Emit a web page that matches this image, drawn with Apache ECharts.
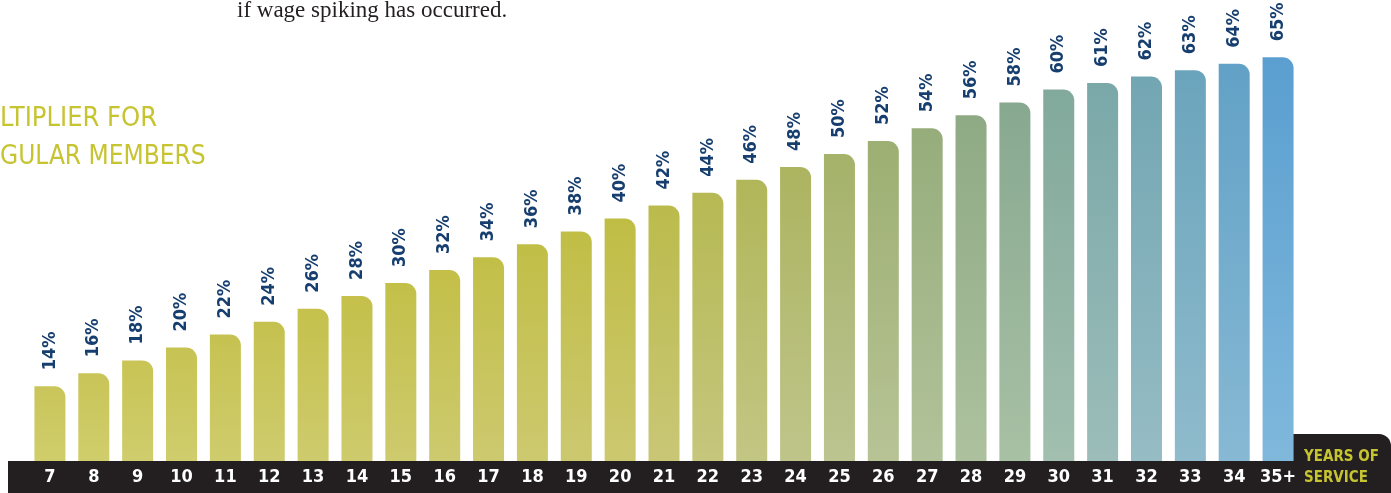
<!DOCTYPE html>
<html>
<head>
<meta charset="utf-8">
<script src="https://cdn.jsdelivr.net/npm/echarts@6/dist/echarts.min.js"></script>
<style>
  html, body { margin: 0; padding: 0; background: #fff; }
  #chart { width: 1391px; height: 493px; }
</style>
</head>
<body>
<div id="chart"></div>
<script>
// years of service (x axis)
var years = ['7', '8', '9', '10', '11', '12', '13', '14', '15', '16', '17', '18', '19', '20', '21',
  '22', '23', '24', '25', '26', '27', '28', '29', '30', '31', '32', '33', '34', '35+']
// multiplier in percent
var multiplier = [14, 16, 18, 20, 22, 24, 26, 28, 30, 32, 34, 36, 38, 40, 42,
  44, 46, 48, 50, 52, 54, 56, 58, 60, 61, 62, 63, 64, 65]

var condensed = '"DejaVu Sans Condensed", "Liberation Sans Narrow", sans-serif'

// colour ramp, left (yellow-green) to right (blue); top and bottom of each bar
var topStops = [[0, [201, 197, 90]], [7, [196, 192, 74]], [13, [192, 189, 69]], [17, [172, 180, 96]],
  [21, [142, 170, 132]], [24, [122, 168, 168]], [28, [90, 159, 208]]]
var botStops = [[0, [208, 206, 108]], [13, [204, 200, 112]], [18, [188, 196, 144]],
  [22, [168, 192, 164]], [25, [150, 188, 196]], [28, [128, 184, 220]]]

function ramp(stops, i) {
  for (var k = 1; k < stops.length; k++) {
    if (i <= stops[k][0]) {
      var a = stops[k - 1], b = stops[k]
      var t = (i - a[0]) / (b[0] - a[0])
      var c = a[1].map(function (v, j) { return Math.round(v + (b[1][j] - v) * t) })
      return 'rgb(' + c.join(',') + ')'
    }
  }
  var last = stops[stops.length - 1][1]
  return 'rgb(' + last.join(',') + ')'
}

var barData = multiplier.map(function (v, i) {
  return {
    value: v,
    itemStyle: {
      color: new echarts.graphic.LinearGradient(0, 0, 0, 1, [
        { offset: 0, color: ramp(topStops, i) },
        { offset: 1, color: ramp(botStops, i) }
      ])
    }
  }
})

var chart = echarts.init(document.getElementById('chart'))
chart.setOption({
  animation: false,
  grid: {
    left: 28,
    width: 1272,
    top: 25,
    bottom: 32,
    containLabel: false
  },
  xAxis: {
    type: 'category',
    data: years,
    axisLine: { show: false },
    axisTick: { show: false },
    axisLabel: {
      interval: 0,
      margin: 7,
      color: '#ffffff',
      fontFamily: condensed,
      fontWeight: 'bold',
      fontSize: 18
    },
    z: 5
  },
  yAxis: {
    type: 'value',
    min: 2.4,
    max: 70,
    show: false,
    splitLine: { show: false }
  },
  series: [{
    type: 'bar',
    data: barData,
    barWidth: 31,
    itemStyle: { borderRadius: [0, 11, 0, 0] },
    label: {
      show: true,
      position: 'top',
      distance: 16,
      rotate: 90,
      align: 'left',
      verticalAlign: 'middle',
      formatter: '{c}%',
      color: '#163e6e',
      fontFamily: condensed,
      fontWeight: 'bold',
      fontSize: 18
    }
  }],
  graphic: [
    // black strip under the bars
    { type: 'rect', z: -1, shape: { x: 8, y: 461, width: 1383, height: 32 }, style: { fill: '#231f20' } },
    { type: 'rect', z: -1, shape: { x: 1293, y: 434, width: 98, height: 40, r: [0, 12, 0, 0] }, style: { fill: '#231f20' } },
    { type: 'text', z: 10, style: { x: 1304, y: 457, text: 'YEARS OF', fill: '#c6c430', font: 'bold 15px ' + condensed, verticalAlign: 'middle' } },
    { type: 'text', z: 10, style: { x: 1304, y: 478, text: 'SERVICE', fill: '#c6c430', font: 'bold 15px ' + condensed, verticalAlign: 'middle' } },
    // cut-off heading on the left
    { type: 'text', style: { x: 0, y: 119, text: 'LTIPLIER FOR', fill: '#c6c430', font: '27px ' + condensed, verticalAlign: 'middle' } },
    { type: 'text', style: { x: 0, y: 157, text: 'GULAR MEMBERS', fill: '#c6c430', font: '26px ' + condensed, verticalAlign: 'middle' } },
    // cut-off body text at the top
    { type: 'text', style: { x: 237, y: 11, text: 'if wage spiking has occurred.', fill: '#231f20', font: '23px "Liberation Serif", "DejaVu Serif", serif', verticalAlign: 'middle' } }
  ]
})
</script>
</body>
</html>
